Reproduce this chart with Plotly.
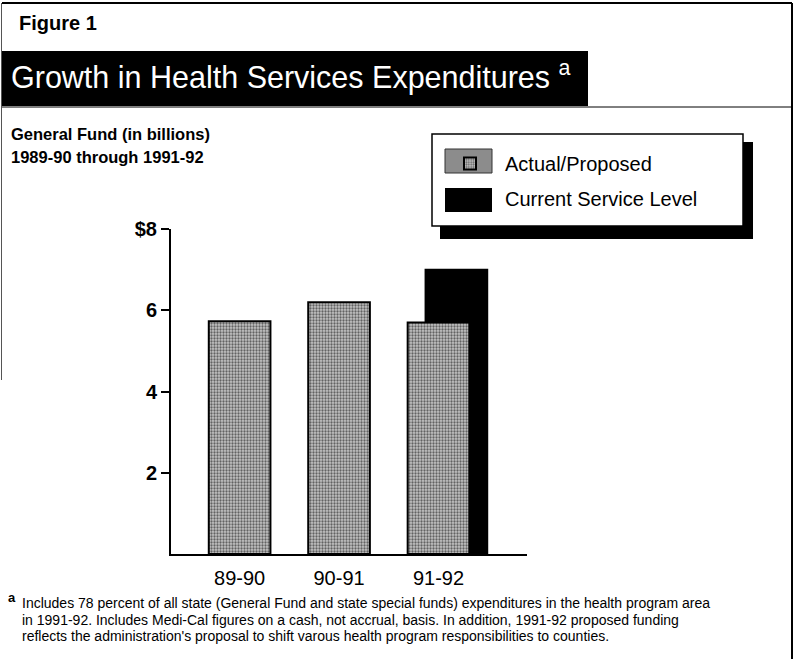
import plotly.graph_objects as go

# ---- data ----
categories = ["89-90", "90-91", "91-92"]
actual_proposed = [5.73, 6.2, 5.7]
current_service_cat = ["91-92"]
current_service = [7.0]
y_tickvals = [2, 4, 6, 8]
y_ticktext = ["2", "4", "6", "$8"]

W, H = 796, 659
L, R, T, B = 171, 269, 229, 105
PW, PH = W - L - R, H - T - B

def X(px):
    return (px - L) / PW

def Y(py):
    return (H - B - py) / PH

FONT = "Liberation Sans, Arial, Helvetica, sans-serif"

fig = go.Figure()

fig.add_trace(go.Bar(
    x=current_service_cat, y=current_service, name="Current Service Level",
    width=0.62, offset=-0.13,
    marker=dict(color="black", line=dict(color="black", width=2)),
    legendrank=2, legendgroup="b",
))
fig.add_trace(go.Bar(
    x=categories, y=actual_proposed, name="Actual/Proposed",
    width=0.62, offset=-0.31,
    marker=dict(color="#a8a8a8", line=dict(color="black", width=2),
                pattern=dict(shape=".", size=3, solidity=0.45,
                             fgcolor="black", bgcolor="#c4c4c4")),
    legendrank=1, legendgroup="a",
))

shapes = [
    # outer frame
    dict(type="line", xref="paper", yref="paper", x0=X(2), x1=X(792), y0=Y(3), y1=Y(3),
         line=dict(color="black", width=2)),
    dict(type="line", xref="paper", yref="paper", x0=X(792), x1=X(792), y0=Y(3), y1=Y(659),
         line=dict(color="black", width=2)),
    dict(type="line", xref="paper", yref="paper", x0=X(1.5), x1=X(1.5), y0=Y(3), y1=Y(380),
         line=dict(color="#555", width=1)),
    # title banner
    dict(type="rect", xref="paper", yref="paper", x0=X(2), x1=X(588), y0=Y(51), y1=Y(106),
         fillcolor="black", line=dict(width=0), layer="below"),
    dict(type="line", xref="paper", yref="paper", x0=X(2), x1=X(792), y0=Y(107), y1=Y(107),
         line=dict(color="black", width=1)),
    # legend shadow + box
    dict(type="rect", xref="paper", yref="paper", x0=X(440), x1=X(753), y0=Y(142), y1=Y(239),
         fillcolor="black", line=dict(width=0), layer="below"),
    dict(type="rect", xref="paper", yref="paper", x0=X(432), x1=X(743), y0=Y(134), y1=Y(226),
         fillcolor="white", line=dict(color="black", width=1.5), layer="below"),
    # legend swatches
    dict(type="rect", xref="paper", yref="paper", x0=X(445), x1=X(492), y0=Y(149), y1=Y(173),
         fillcolor="#8c8c8c", line=dict(color="#333", width=1), layer="below"),
    dict(type="rect", xref="paper", yref="paper", x0=X(445), x1=X(492), y0=Y(188), y1=Y(212),
         fillcolor="black", line=dict(width=0), layer="below"),
]

annotations = [
    dict(text="<b>Figure 1</b>", x=X(17), y=Y(23), xanchor="left", yanchor="middle",
         font=dict(family=FONT, size=20, color="black")),
    dict(text="Growth in Health Services Expenditures <sup>a</sup>", x=X(9), y=Y(76),
         xanchor="left", yanchor="middle", font=dict(family=FONT, size=30.5, color="white")),
    dict(text="<b>General Fund (in billions)</b>", x=X(9), y=Y(134), xanchor="left", yanchor="middle",
         font=dict(family=FONT, size=16.5, color="black")),
    dict(text="<b>1989-90 through 1991-92</b>", x=X(9), y=Y(157), xanchor="left", yanchor="middle",
         font=dict(family=FONT, size=16.5, color="black")),
    dict(text="<b>a</b>", x=X(6), y=Y(597), xanchor="left", yanchor="middle",
         font=dict(family=FONT, size=13, color="black")),
]
foot_lines = [
    "Includes 78 percent of all state (General Fund and state special funds) expenditures in the health program area",
    "in 1991-92. Includes Medi-Cal figures on a cash, not accrual, basis. In addition, 1991-92 proposed funding",
    "reflects the administration's proposal to shift varous health program responsibilities to counties.",
]
for txt, py in zip(foot_lines, [603, 619.5, 636]):
    annotations.append(dict(text=txt, x=X(20), y=Y(py), xanchor="left", yanchor="middle",
                            font=dict(family=FONT, size=14, color="black")))
for a in annotations:
    a.update(xref="paper", yref="paper", showarrow=False)

fig.update_layout(
    width=W, height=H,
    margin=dict(l=L, r=R, t=T, b=B, pad=0),
    paper_bgcolor="white", plot_bgcolor="white",
    barmode="overlay",
    showlegend=True,
    legend=dict(x=X(435), y=Y(144), xanchor="left", yanchor="top",
                bgcolor="rgba(0,0,0,0)", borderwidth=0,
                font=dict(family=FONT, size=20, color="black"),
                itemwidth=60, tracegroupgap=6, traceorder="grouped"),
    xaxis=dict(type="category", categoryorder="array", categoryarray=categories,
               range=[-0.69, 2.89], showline=True, linecolor="black", linewidth=2,
               ticks="", showgrid=False, zeroline=False, ticklabelstandoff=5,
               tickfont=dict(family=FONT, size=20, color="black")),
    yaxis=dict(range=[0, 8], tickvals=y_tickvals, ticktext=y_ticktext,
               showline=True, linecolor="black", linewidth=2,
               ticks="outside", ticklen=8, tickwidth=2, tickcolor="black",
               showgrid=False, zeroline=False,
               tickfont=dict(family=FONT, size=20, color="black", weight="bold")),
    shapes=shapes,
    annotations=annotations,
)

fig.write_html("out.html", config={"displayModeBar": False},
               post_script="document.body.style.margin='0';document.body.style.padding='0';")
